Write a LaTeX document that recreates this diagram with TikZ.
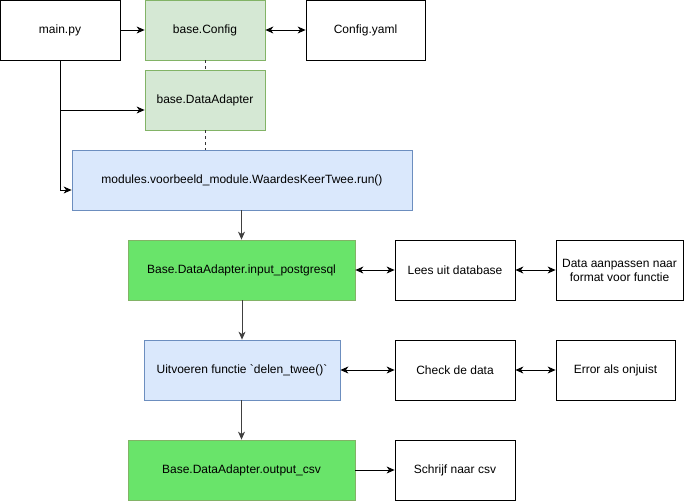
\documentclass[tikz,border=0pt]{standalone}
\usepackage{fontspec}
\setmainfont{Liberation Sans}
\usetikzlibrary{arrows.meta,calc}
\definecolor{paleGreen}{HTML}{D5E8D4}
\definecolor{greenLine}{HTML}{82B366}
\definecolor{paleBlue}{HTML}{DAE8FC}
\definecolor{blueLine}{HTML}{6C8EBF}
\definecolor{brightGreen}{HTML}{69E46A}

\begin{document}
\begin{tikzpicture}[x=1pt,y=-1pt,
    box/.style={draw=black,fill=white,line width=0.8pt,minimum height=60pt,inner sep=2pt,font=\fontsize{12}{14}\selectfont},
    basebox/.style={box,draw=greenLine,fill=paleGreen},
    modbox/.style={box,draw=blueLine,fill=paleBlue},
    iobox/.style={box,draw=greenLine,fill=brightGreen},
    flow/.style={line width=0.8pt,-{Stealth[length=8pt,width=7pt,inset=2.5pt]}},
    both/.style={flow,{Stealth[length=8pt,width=7pt,inset=2.5pt]}-{Stealth[length=8pt,width=7pt,inset=2.5pt]}},
    link/.style={line width=0.8pt,dashed,dash pattern=on 3pt off 3pt,black!80}]
    \useasboundingbox (0,0) rectangle (684,501);
    % top row
    \node[box,minimum width=120pt] (mainpy) at (60,30) {main.py};
    \node[basebox,minimum width=120pt] (config) at (205,30) {base.Config};
    \node[box,minimum width=119pt] (yaml) at (365.5,30) {Config.yaml};
    \node[basebox,minimum width=120pt] (adapter) at (205,100) {base.DataAdapter};
    \node[modbox,minimum width=340pt] (run) at (242,180) {modules.voorbeeld\_module.WaardesKeerTwee.run()};
    % input
    \node[iobox,minimum width=227pt] (input) at (241.5,270) {Base.DataAdapter.input\_postgresql};
    \node[box,minimum width=120pt] (lees) at (455,270) {Lees uit database};
    \node[box,minimum width=127pt,align=center] (aanpassen) at (619.5,270) {Data aanpassen naar\\format voor functie};
    % functie
    \node[modbox,minimum width=196pt] (uitvoeren) at (242,370) {Uitvoeren functie \textasciigrave delen\_twee()\textasciigrave};
    \node[box,minimum width=120pt] (check) at (455,370) {Check de data};
    \node[box,minimum width=119pt] (error) at (615.5,370) {Error als onjuist};
    % output
    \node[iobox,minimum width=227pt] (output) at (241.5,470) {Base.DataAdapter.output\_csv};
    \node[box,minimum width=120pt] (schrijf) at (455,470) {Schrijf naar csv};

    \draw[flow] (mainpy) -- (config);
    \draw[both] (config) -- (yaml);
    \draw[flow] (mainpy.south) |- ($(adapter.west)+(0,10)$);
    \draw[flow] (mainpy.south) |- ($(run.west)+(0,10)$);
    \draw[link] (config) -- (adapter);
    \draw[link] (adapter) -- (adapter |- run.north);
    \draw[flow,black!75] (run.south -| input) -- (input);
    \draw[both] (input) -- (lees);
    \draw[both] (lees) -- (aanpassen);
    \draw[flow,black!75] (input.south -| uitvoeren) -- (uitvoeren);
    \draw[both] (uitvoeren) -- (check);
    \draw[both] (check) -- (error);
    \draw[flow,black!75] (uitvoeren.south -| output) -- (output);
    \draw[flow] (output) -- (schrijf);
\end{tikzpicture}
\end{document}
